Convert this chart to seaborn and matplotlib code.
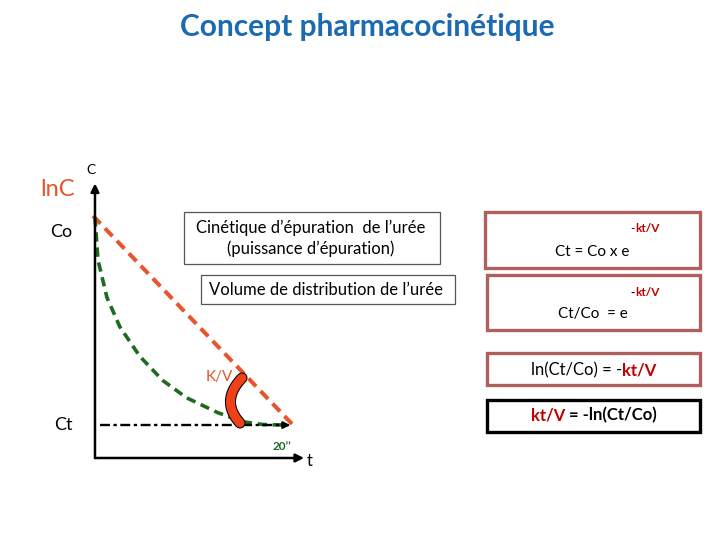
import numpy as np
import matplotlib
matplotlib.use("Agg")
import matplotlib.pyplot as plt
import matplotlib.patheffects as pe
import seaborn as sns
from matplotlib.patches import Rectangle
from matplotlib.offsetbox import TextArea, HPacker, AnnotationBbox

sns.set_theme(style="white")
plt.rcParams['font.family'] = ['Lato', 'DejaVu Sans']

# ---- data ----
t_linear = [-0.3, 19.8]
lnC_linear = [9.05, 1.23]
t_curve = [-0.1, 0.2, 1.1, 2.4, 4.4, 6.7, 9.1, 12.2, 14.8, 16.8, 19.2]
C_curve = [9.0, 7.4, 6.0, 4.9, 3.8, 2.9, 2.25, 1.7, 1.35, 1.25, 1.23]
t_ct = [0.4, 19.0]
Ct_level = [1.23, 1.23]

ORANGE = "#E8552A"
GREEN = "#1E6B1E"
BLUE = "#1C6BB2"
RED = "#C00000"
BROWN = "#B0605C"

fig = plt.figure(figsize=(7.2, 5.4), dpi=100)
bg = fig.add_axes([0, 0, 1, 1])
bg.set_xlim(0, 720)
bg.set_ylim(540, 0)
bg.axis("off")

# ---- graph inset ----
ax = fig.add_axes([91 / 720, (540 - 458) / 540, 224 / 720, 281 / 540])
ax.set_xlim(-0.5, 22)
ax.set_ylim(0, 10.5)
ax.axis("off")

sns.lineplot(x=t_linear, y=lnC_linear, ax=ax, color=ORANGE, linewidth=2.9,
             linestyle=(0, (2.7, 1.6)), sort=False, estimator=None)
sns.lineplot(x=t_curve, y=C_curve, ax=ax, color=GREEN, linewidth=2.6,
             linestyle=(0, (2.6, 1.6)), sort=False, estimator=None)
sns.lineplot(x=t_ct, y=Ct_level, ax=ax, color="black", linewidth=1.7,
             linestyle=(0, (4.2, 1.5, 1.4, 1.5)), sort=False, estimator=None)
ax.annotate("", xy=(19.8, Ct_level[0]), xytext=(18.8, Ct_level[0]),
            arrowprops=dict(arrowstyle="-|>", color="black", lw=1.6, mutation_scale=10))

# axes arrows
ax.annotate("", xy=(-0.1, 10.26), xytext=(-0.1, 0),
            arrowprops=dict(arrowstyle="-|>", color="black", lw=1.8, mutation_scale=12,
                            shrinkA=0, shrinkB=0))
ax.annotate("", xy=(20.9, 0), xytext=(-0.1, 0),
            arrowprops=dict(arrowstyle="-|>", color="black", lw=1.8, mutation_scale=12,
                            shrinkA=0, shrinkB=0))

# crescent (K/V marker) drawn as a thick rounded stroke
s = np.linspace(0, 1, 40)
p0, p1, p2 = np.array([242, 378]), np.array([220, 401]), np.array([240, 423])
curve = ((1 - s)[:, None] ** 2) * p0 + (2 * (1 - s) * s)[:, None] * p1 + (s ** 2)[:, None] * p2
ax.plot(curve[:, 0], curve[:, 1], transform=bg.transData, color="#F0401A", lw=6.5,
        solid_capstyle="round", zorder=10, clip_on=False,
        path_effects=[pe.Stroke(linewidth=8.0, foreground="black"), pe.Normal()])

# ---- texts ----
bg.text(367, 27, "Concept pharmacocinétique", color=BLUE, fontsize=21.5,
        fontweight="bold", ha="center", va="center")
bg.text(58, 189, "lnC", color=ORANGE, fontsize=17, ha="center", va="center")
bg.text(91, 170, "C", color="black", fontsize=10, ha="center", va="center")
bg.text(61, 232, "Co", color="black", fontsize=13, ha="center", va="center")
bg.text(63, 425, "Ct", color="black", fontsize=13, ha="center", va="center")
bg.text(310, 461, "t", color="black", fontsize=12, ha="center", va="center")
bg.text(282, 446, "20\u2019\u2019", color=GREEN, fontsize=8.5, fontweight="bold",
        ha="center", va="center")
bg.text(219, 377, "K/V", color=ORANGE, fontsize=11, ha="center", va="center")

# left boxes
bg.add_patch(Rectangle((184, 212), 256, 52, fill=False, edgecolor="#555555", lw=0.9))
bg.text(311, 228, "Cinétique d\u2019épuration  de l\u2019urée", fontsize=12,
        ha="center", va="center", color="black")
bg.text(311, 249, "(puissance d\u2019épuration)", fontsize=12,
        ha="center", va="center", color="black")
bg.add_patch(Rectangle((201, 275), 254, 29, fill=False, edgecolor="#555555", lw=0.9))
bg.text(326, 290, "Volume de distribution de l\u2019urée", fontsize=12,
        ha="center", va="center", color="black")

# right boxes
bg.add_patch(Rectangle((485, 212), 215, 56, fill=False, edgecolor=BROWN, lw=2.4))
bg.add_patch(Rectangle((487, 275), 213, 55, fill=False, edgecolor=BROWN, lw=2.4))
bg.add_patch(Rectangle((487, 353), 213, 32, fill=False, edgecolor=BROWN, lw=2.4))
bg.add_patch(Rectangle((487, 400), 213, 32, fill=False, edgecolor="black", lw=2.4))


def mixed(x, y, parts, size, align=(0.5, 0.5)):
    areas = [TextArea(txt, textprops=dict(color=c, fontsize=size, fontweight=w,
                                           family=['Lato', 'DejaVu Sans']))
             for txt, c, w in parts]
    pack = HPacker(children=areas, align="baseline", pad=0, sep=0)
    ab = AnnotationBbox(pack, (x, y), xycoords="data", frameon=False,
                        box_alignment=align, pad=0)
    bg.add_artist(ab)


mixed(645, 229, [("-", "black", "normal"), ("kt/V", RED, "bold")], 8.5)
bg.text(592, 252, "Ct = Co x e", fontsize=11, ha="center", va="center", color="black")
mixed(645, 293, [("-", "black", "bold"), ("kt/V", RED, "bold")], 8.5)
bg.text(593, 314, "Ct/Co  = e", fontsize=11, ha="center", va="center", color="black")
mixed(594, 370, [("ln(Ct/Co) = -", "black", "normal"), ("kt/V", RED, "bold")], 12)
mixed(594, 415, [("kt/V", RED, "bold"), (" = -ln(Ct/Co)", "black", "bold")], 12)

fig.savefig("out.png", dpi=100)
